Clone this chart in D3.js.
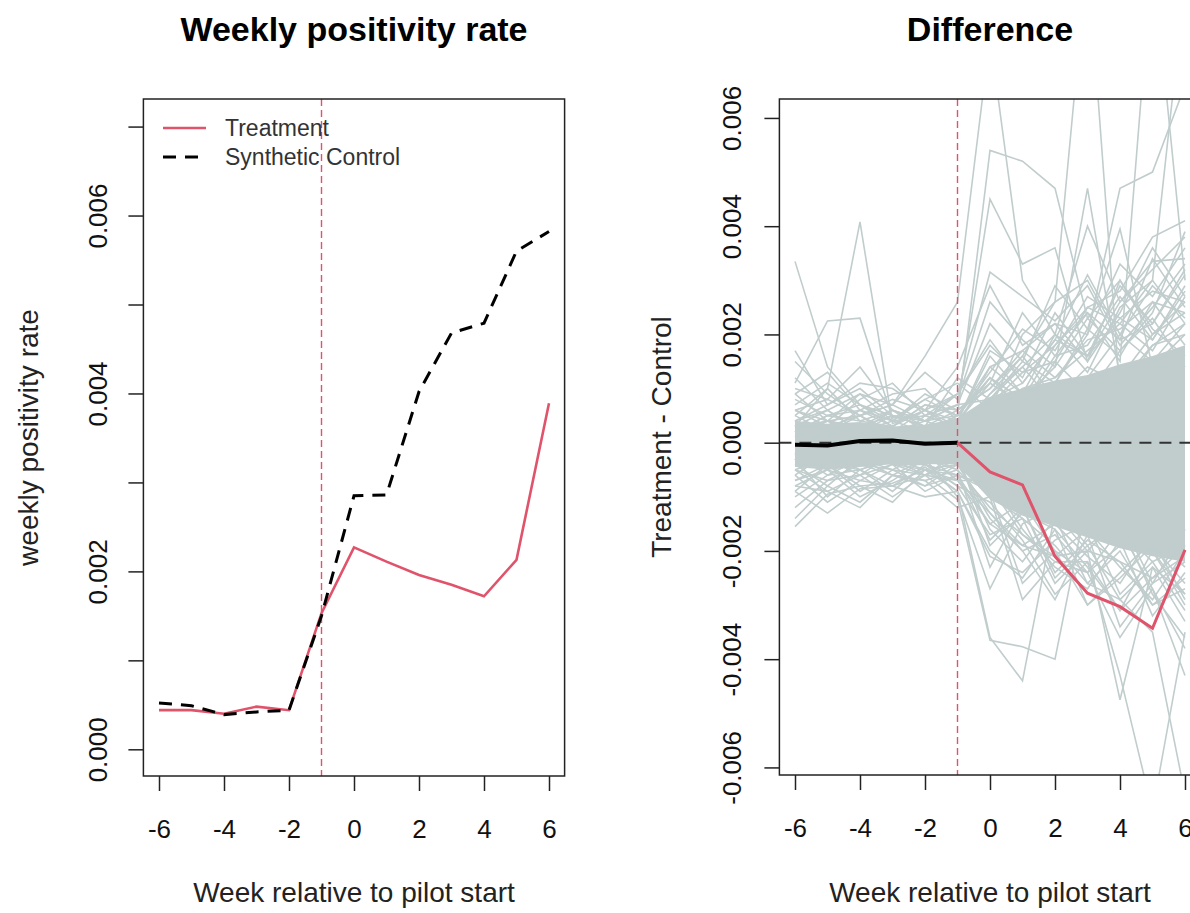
<!DOCTYPE html>
<html>
<head>
<meta charset="utf-8">
<script src="https://cdn.jsdelivr.net/npm/d3@7"></script>
<style>
  body { margin: 0; background: #fff; }
  svg { display: block; font-family: "Liberation Sans", Arial, sans-serif; }
</style>
</head>
<body>
<div class="svg"></div>
<script>
// ---- data ----
var weeks = [-6, -5, -4, -3, -2, -1, 0, 1, 2, 3, 4, 5, 6];
var xTicks = [-6, -4, -2, 0, 2, 4, 6];

var treatmentRate = [0.00044, 0.00044, 0.00040, 0.00048, 0.00044, 0.00153, 0.00227, 0.00211, 0.00196, 0.00185, 0.00172, 0.00213, 0.00389];
var syntheticRate = [0.00052, 0.00049, 0.00039, 0.00042, 0.00044, 0.00150, 0.00285, 0.00286, 0.00402, 0.00468, 0.00479, 0.00560, 0.00582];

var leftYTicks = [0, 0.001, 0.002, 0.003, 0.004, 0.005, 0.006, 0.007];
var rightYTicks = [-0.006, -0.004, -0.002, 0, 0.002, 0.004, 0.006];

// treatment - synthetic control
var treatmentDiff = [-0.00004, -0.00005, 0.00003, 0.00004, -0.00002, 0.00000, -0.00054, -0.00078, -0.00210, -0.00278, -0.00303, -0.00343, -0.00198];

// placebo differences, in thousandths (x 0.001)
var placeboCoreUpper = [0.40, 0.35, 0.38, 0.30, 0.33, 0.45, 0.85, 1.00, 1.15, 1.25, 1.45, 1.60, 1.80];
var placeboCoreLower = [-0.45, -0.50, -0.45, -0.40, -0.40, -0.40, -1.05, -1.35, -1.55, -1.75, -1.95, -2.10, -2.20];

var placeboLines = [
  [0.8, 0.5, 0.7, 0.3, 0.6, 0.9, 1.8, 1.2, 2.4, 1.6, 2.9, 2.2, 3.1],
  [-0.7, -0.4, -0.9, -0.5, -0.6, -0.3, -1.6, -2.2, -1.4, -2.6, -2.0, -3.0, -2.7],
  [0.5, 1.0, 0.4, 0.6, 0.2, 0.5, 1.3, 2.1, 1.7, 2.7, 2.3, 1.9, 2.8],
  [-0.4, -0.8, -0.3, -0.6, -0.7, -0.5, -2.3, -1.2, -2.5, -1.9, -2.9, -2.3, -3.3],
  [1.2, 0.6, 0.9, 0.4, 0.8, 1.1, 0.6, 2.0, 2.6, 3.0, 1.9, 3.4, 2.5],
  [-1.0, -0.6, -0.5, -0.9, -0.4, -0.8, -1.1, -1.8, -2.8, -2.2, -3.1, -2.5, -2.1],
  [0.6, 0.3, 0.8, 1.1, 0.5, 0.7, 2.2, 1.5, 1.1, 2.0, 3.3, 2.7, 3.6],
  [-0.6, -1.1, -0.7, -0.4, -0.9, -0.6, -0.9, -2.6, -2.0, -3.0, -2.4, -1.8, -2.9],
  [0.9, 1.3, 0.6, 0.9, 1.0, 0.4, 1.6, 0.9, 2.0, 1.3, 2.5, 3.0, 2.2],
  [-0.8, -0.5, -1.0, -0.7, -0.3, -1.0, -2.7, -1.5, -1.2, -1.9, -1.5, -2.8, -3.6],
  [1.5, 0.9, 0.5, 0.7, 1.3, 0.8, 2.6, 1.9, 1.4, 2.3, 1.7, 2.4, 3.9],
  [-0.5, -0.9, -1.2, -0.6, -0.8, -0.4, -1.4, -2.0, -2.9, -1.7, -3.4, -2.6, -1.6],
  [0.4, 0.7, 1.0, 0.5, 0.3, 1.2, 0.8, 1.5, 2.9, 2.1, 1.6, 2.6, 1.8],
  [-1.2, -0.7, -0.6, -1.0, -0.6, -0.2, -1.9, -1.3, -1.6, -3.0, -2.5, -1.9, -2.6],
  [0.7, 1.1, 0.7, 0.4, 0.9, 0.6, 1.1, 2.4, 1.6, 1.8, 2.7, 1.9, 2.9],
  [-0.9, -0.4, -0.8, -1.1, -0.5, -0.7, -0.7, -1.6, -2.3, -2.7, -1.8, -3.2, -2.4],
  [1.0, 0.8, 1.4, 0.6, 0.4, 0.9, 1.9, 1.1, 1.9, 3.1, 2.0, 2.9, 2.3],
  [-0.3, -1.0, -0.5, -0.8, -1.0, -0.9, -2.1, -2.4, -1.8, -1.5, -2.8, -2.2, -3.1],
  [1.7, 0.7, 1.1, 1.0, 0.6, 1.4, 2.9, 1.8, 2.2, 1.5, 3.0, 2.1, 1.6],
  [-1.4, -0.8, -1.1, -0.6, -0.7, -1.2, -1.0, -2.9, -2.2, -2.4, -1.6, -2.7, -3.8],
  [0.3, 0.6, 0.2, 0.4, 0.5, 0.3, 1.4, 1.7, 1.2, 1.9, 2.1, 2.6, 2.4],
  [-0.6, -0.2, -0.5, -0.3, -0.6, -0.7, -1.5, -1.1, -2.0, -2.4, -1.9, -2.0, -2.8],
  [0.6, 0.8, 0.5, 0.7, 0.4, 0.7, 0.8, 1.4, 2.0, 1.6, 2.3, 2.8, 2.6],
  [-0.7, -0.5, -0.7, -0.8, -0.6, -0.4, -1.3, -1.9, -1.5, -2.1, -2.6, -1.7, -2.3],
  [0.2, 0.5, 0.6, 0.3, 0.7, 0.5, 1.2, 0.8, 1.8, 2.4, 1.9, 2.2, 3.2],
  [-0.5, -0.7, -0.4, -0.5, -0.8, -0.6, -0.8, -1.7, -2.1, -1.6, -2.3, -2.9, -2.0],
  [0.9, 0.4, 0.5, 0.8, 0.6, 0.4, 1.7, 1.3, 1.5, 2.5, 2.2, 1.7, 2.7],
  [-0.8, -0.9, -0.6, -0.4, -0.4, -0.8, -1.7, -1.4, -2.6, -2.0, -2.2, -2.5, -1.9],
  // outliers
  [3.35, 1.4, 0.7, 0.5, 0.3, 0.6, 1.0, 1.6, 0.8, 1.4, 1.1, 1.8, 2.0],
  [0.3, 1.0, 4.08, 0.35, 0.6, 0.2, 0.9, 1.4, 0.7, 1.2, 2.0, 1.5, 2.2],
  [1.1, 2.25, 2.3, 0.45, 0.8, 0.5, 1.2, 0.6, 1.5, 0.9, 1.7, 2.3, 1.4],
  [0.6, 0.4, 0.9, 0.7, 1.6, 2.6, 7.5, 3.0, 2.0, 4.0, 2.6, 3.2, 3.8],
  [0.2, 0.4, 0.3, 0.5, 0.4, 0.5, 5.4, 5.2, 4.7, 2.3, 3.0, 2.0, 2.6],
  [0.3, 0.2, 0.5, 0.2, 0.4, 0.7, 4.5, 3.3, 3.6, 1.5, 2.4, 3.6, 2.7],
  [-0.2, 0.1, 0.3, 0.0, 0.5, 0.9, 3.15, 2.7, 2.25, 2.9, 1.8, 2.5, 3.3],
  [0.1, 0.3, 0.2, 0.6, 0.3, 0.4, 1.2, 0.8, 1.4, 4.7, 1.2, 2.0, 2.4],
  [0.4, 0.6, 0.2, 0.3, 0.7, 0.6, 1.0, 1.7, 2.2, 2.0, 4.7, 5.0, 6.6],
  [0.2, 0.5, 0.4, 0.3, 0.1, 0.3, 0.7, 1.3, 1.8, 2.5, 2.8, 3.8, 4.1],
  [0.5, 0.2, 0.6, 0.4, 0.2, 0.5, 1.4, 0.9, 1.1, 2.1, 3.95, 1.4, 2.0],
  [0.3, 0.4, 0.1, 0.2, 0.6, 0.3, 0.8, 1.1, 1.9, 1.6, 2.6, 3.35, 3.4],
  [0.4, 0.1, 0.3, 0.6, 0.4, 0.2, 0.9, 1.6, 2.6, 9.0, 0.9, 1.8, 2.2],
  [0.2, 0.3, 0.5, 0.1, 0.3, 0.4, 1.1, 0.7, 1.6, 2.4, 1.5, 9.0, 3.0],
  [0.1, 0.4, 0.2, 0.5, 0.3, 0.1, 0.6, 1.0, 1.2, 1.7, 2.2, 3.0, 8.5],
  [-0.3, -0.5, -0.2, -0.4, -0.6, -1.05, -3.65, -3.77, -4.0, -1.0, -1.6, -2.2, -1.9],
  [-0.2, -0.4, -0.5, -0.3, -0.5, -0.9, -3.6, -4.4, -1.3, -2.0, -1.4, -2.6, -2.2],
  [-0.4, -0.3, -0.6, -0.2, -0.4, -0.6, -1.5, -1.9, -2.1, -2.0, -4.75, -2.3, -2.8],
  [-0.3, -0.2, -0.4, -0.6, -0.3, -0.5, -1.2, -1.7, -2.2, -2.2, -4.3, -6.8, -3.5],
  [-0.5, -0.3, -0.2, -0.4, -0.5, -0.4, -1.0, -1.4, -1.9, -2.6, -2.9, -3.5, -6.5],
  [-0.2, -0.6, -0.3, -0.5, -0.2, -0.7, -1.3, -2.0, -1.7, -2.4, -3.6, -2.7, -4.3],
  [-1.55, -0.95, -0.8, -0.75, -0.5, -0.6, -1.8, -1.2, -2.4, -1.8, -2.2, -3.0, -2.5],
  [-0.9, -1.3, -0.85, -0.8, -0.45, -0.9, -2.0, -2.5, -1.6, -2.3, -3.1, -2.0, -3.0]
];

var RED = "#DF536B";
var GREY = "#C1CDCD";
var W = 1190, H = 913;

var svg = d3.select("div.svg").append("svg").attr("width", W).attr("height", H);

function frame(g, x, y, opts) {
  // axes in the R base-graphics style
  var xAxis = d3.axisBottom(x).tickValues(xTicks).tickSize(15).tickSizeOuter(0)
    .tickFormat(d3.format("d"));
  var gx = g.append("g").attr("transform", "translate(0," + y.range()[0] + ")").call(xAxis);
  gx.select(".domain").remove();
  gx.selectAll("text").attr("y", 62).attr("dy", 0).style("font-size", "26px").attr("fill", "#111");

  var yAxis = d3.axisLeft(y).tickValues(opts.yTicks).tickSize(15).tickSizeOuter(0)
    .tickFormat(opts.yFormat);
  var gy = g.append("g").attr("transform", "translate(" + x.range()[0] + ",0)").call(yAxis);
  gy.select(".domain").remove();
  gy.selectAll("text").attr("x", 0).attr("dy", 0).attr("text-anchor", "middle")
    .attr("transform", "translate(" + opts.labelDx + ",0) rotate(-90)")
    .style("font-size", "26px").attr("fill", "#111");
  g.selectAll(".tick line").attr("stroke", "#222").attr("stroke-width", 1.5);

  g.append("rect")
    .attr("x", x.range()[0]).attr("y", y.range()[1])
    .attr("width", x.range()[1] - x.range()[0]).attr("height", y.range()[0] - y.range()[1])
    .attr("fill", "none").attr("stroke", "#222").attr("stroke-width", 1.5);

  var cx = (x.range()[0] + x.range()[1]) / 2;
  g.append("text").attr("x", cx).attr("y", 41).attr("text-anchor", "middle")
    .style("font-size", "34px").style("font-weight", "bold").text(opts.title);
  g.append("text").attr("x", cx).attr("y", 902).attr("text-anchor", "middle")
    .style("font-size", "28px").attr("fill", "#222").text("Week relative to pilot start");
  var cy = (y.range()[0] + y.range()[1]) / 2;
  g.append("text").attr("transform", "translate(" + opts.ylabX + "," + cy + ") rotate(-90)")
    .attr("text-anchor", "middle").style("font-size", "28px").attr("fill", "#222").text(opts.ylab);
}

// ---- left panel ----
var xL = d3.scaleLinear().domain([-6.48, 6.48]).range([143.4, 564.6]);
var yL = d3.scaleLinear().domain([-0.0003, 0.00731]).range([776, 99]);
var gL = svg.append("g");

gL.append("line")
  .attr("x1", xL(-1)).attr("x2", xL(-1)).attr("y1", yL.range()[1]).attr("y2", yL.range()[0])
  .attr("stroke", RED).attr("stroke-width", 1.4).attr("stroke-dasharray", "7,4");

var lineL = d3.line().x(function (d, i) { return xL(weeks[i]); }).y(function (d) { return yL(d); });
gL.append("path").datum(treatmentRate).attr("d", lineL)
  .attr("fill", "none").attr("stroke", RED).attr("stroke-width", 2.6);
gL.append("path").datum(syntheticRate).attr("d", lineL)
  .attr("fill", "none").attr("stroke", "#000").attr("stroke-width", 3).attr("stroke-dasharray", "13,9");

frame(gL, xL, yL, {
  title: "Weekly positivity rate",
  ylab: "weekly positivity rate",
  ylabX: 38,
  labelDx: -36,
  yTicks: leftYTicks,
  yFormat: function (d) { return Math.round(d * 1000) % 2 === 0 ? d3.format(".3f")(d) : ""; }
});

// legend
var legend = gL.append("g");
var legendItems = [
  { label: "Treatment", color: RED, dash: null, w: 2.6 },
  { label: "Synthetic Control", color: "#000", dash: "13,9", w: 3 }
];
legend.selectAll("g").data(legendItems).enter().append("g")
  .attr("transform", function (d, i) { return "translate(0," + (128 + i * 29) + ")"; })
  .each(function (d) {
    var it = d3.select(this);
    it.append("line").attr("x1", 163).attr("x2", 206).attr("y1", 0).attr("y2", 0)
      .attr("stroke", d.color).attr("stroke-width", d.w).attr("stroke-dasharray", d.dash);
    it.append("text").attr("x", 225).attr("y", 8).style("font-size", "23px").attr("fill", "#333").text(d.label);
  });

// ---- right panel ----
var xR = d3.scaleLinear().domain([-6.48, 6.48]).range([779.4, 1200.6]);
var yR = d3.scaleLinear().domain([-0.00614, 0.00635]).range([775, 99]);
var gR = svg.append("g");

svg.append("clipPath").attr("id", "clipR").append("rect")
  .attr("x", 779.4).attr("y", 99).attr("width", 421.2).attr("height", 676);
var plotR = gR.append("g").attr("clip-path", "url(#clipR)");

var milli = function (d) { return d / 1000; };
var band = d3.area()
  .x(function (d, i) { return xR(weeks[i]); })
  .y0(function (d, i) { return yR(milli(placeboCoreLower[i])); })
  .y1(function (d) { return yR(milli(d)); });
plotR.append("path").datum(placeboCoreUpper).attr("d", band).attr("fill", GREY);

var lineP = d3.line().x(function (d, i) { return xR(weeks[i]); }).y(function (d) { return yR(milli(d)); });
plotR.selectAll("path.placebo").data(placeboLines).enter().append("path")
  .attr("class", "placebo").attr("d", lineP)
  .attr("fill", "none").attr("stroke", GREY).attr("stroke-width", 1.6);

plotR.append("line")
  .attr("x1", xR.range()[0]).attr("x2", xR.range()[1]).attr("y1", yR(0)).attr("y2", yR(0))
  .attr("stroke", "#333").attr("stroke-width", 2).attr("stroke-dasharray", "12,8");
plotR.append("line")
  .attr("x1", xR(-1)).attr("x2", xR(-1)).attr("y1", yR.range()[1]).attr("y2", yR.range()[0])
  .attr("stroke", RED).attr("stroke-width", 1.4).attr("stroke-dasharray", "7,4");

var lineR = d3.line().x(function (d) { return xR(d[0]); }).y(function (d) { return yR(d[1]); });
var diffPts = weeks.map(function (w, i) { return [w, treatmentDiff[i]]; });
plotR.append("path").datum(diffPts.filter(function (d) { return d[0] <= -1; })).attr("d", lineR)
  .attr("fill", "none").attr("stroke", "#000").attr("stroke-width", 4);
plotR.append("path").datum(diffPts.filter(function (d) { return d[0] >= -1; })).attr("d", lineR)
  .attr("fill", "none").attr("stroke", RED).attr("stroke-width", 3);

frame(gR, xR, yR, {
  title: "Difference",
  ylab: "Treatment - Control",
  ylabX: 671,
  labelDx: -38,
  yTicks: rightYTicks,
  yFormat: d3.format(".3f")
});
// R prints a hyphen for negatives
gR.selectAll(".tick text").text(function () { return d3.select(this).text().replace("\u2212", "-"); });
gL.selectAll(".tick text").text(function () { return d3.select(this).text().replace("\u2212", "-"); });
</script>
</body>
</html>
